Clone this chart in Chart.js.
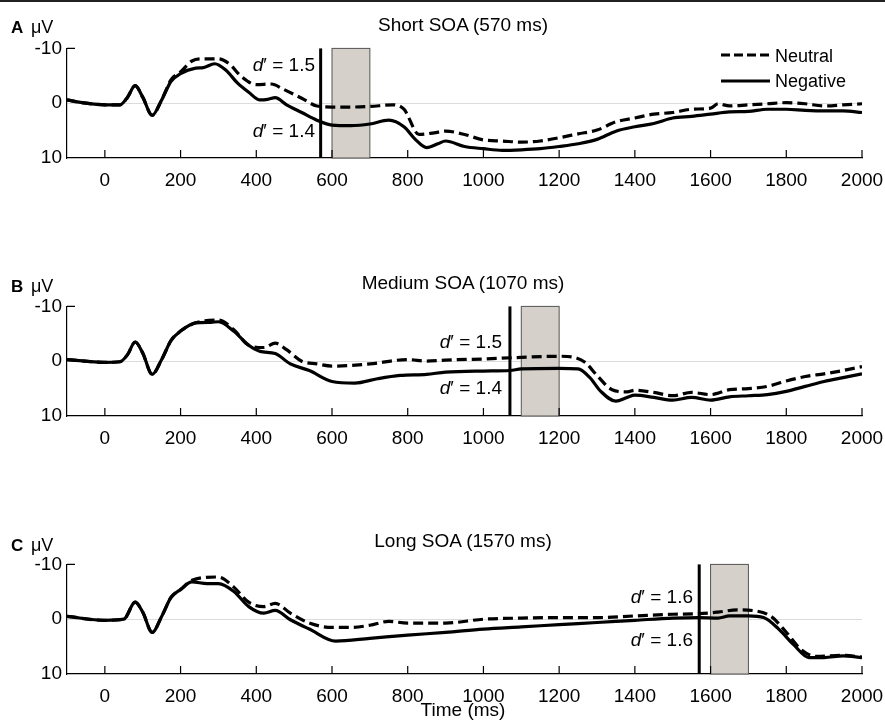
<!DOCTYPE html>
<html>
<head>
<meta charset="utf-8">
<script src="https://cdn.jsdelivr.net/npm/chart.js@4.4.0/dist/chart.umd.min.js"></script>
<style>
  body { margin: 0; background: #fff; }
  #page { position: relative; width: 885px; height: 726px; overflow: hidden; font-family: "Liberation Sans", Arial, sans-serif; }
  #page canvas { position: absolute; left: 0; }
  .t { position: absolute; white-space: nowrap; font-size: 18px; line-height: 20px; color: #000; }
  .letter { font-weight: bold; font-size: 17px; }
  .dp { font-size: 19px; text-align: right; }
  .title { transform: translateX(-50%); font-size: 19px; }
  #topline { position: absolute; left: 0; top: 0; width: 885px; height: 2px; background: #222; }
</style>
</head>
<body>
<div id="page">
  <div id="topline"></div>
  <canvas id="chartA" width="885" height="160" style="top:32px;width:885px;height:160px"></canvas>
  <canvas id="chartB" width="885" height="160" style="top:290px;width:885px;height:160px"></canvas>
  <canvas id="chartC" width="885" height="160" style="top:548px;width:885px;height:160px"></canvas>

  <div class="t letter" style="left:11px;top:18px">A</div>
  <div class="t" style="left:31px;top:17px">μV</div>
  <div class="t title" style="left:463px;top:15px">Short SOA (570 ms)</div>
  <div class="t dp" style="right:570px;top:55px"><i>d</i>′ = 1.5</div>
  <div class="t dp" style="right:570px;top:121px"><i>d</i>′ = 1.4</div>

  <div class="t letter" style="left:11px;top:277px">B</div>
  <div class="t" style="left:31px;top:276px">μV</div>
  <div class="t title" style="left:463px;top:273px">Medium SOA (1070 ms)</div>
  <div class="t dp" style="right:383px;top:332px"><i>d</i>′ = 1.5</div>
  <div class="t dp" style="right:383px;top:378px"><i>d</i>′ = 1.4</div>

  <div class="t letter" style="left:11px;top:536px">C</div>
  <div class="t" style="left:31px;top:535px">μV</div>
  <div class="t title" style="left:463px;top:531px">Long SOA (1570 ms)</div>
  <div class="t dp" style="right:192px;top:587px"><i>d</i>′ = 1.6</div>
  <div class="t dp" style="right:192px;top:630px"><i>d</i>′ = 1.6</div>

  <div class="t title" style="left:463px;top:700px">Time (ms)</div>

  <svg style="position:absolute;left:0;top:0" width="885" height="100">
    <line x1="721" y1="55" x2="770" y2="55" stroke="#000" stroke-width="3" stroke-dasharray="9,4"/>
    <line x1="721" y1="81" x2="770" y2="81" stroke="#000" stroke-width="3"/>
  </svg>
  <div class="t" style="left:775px;top:46px">Neutral</div>
  <div class="t" style="left:775px;top:71px">Negative</div>
</div>

<script>
// tick labels
const xTickValues = [0, 200, 400, 600, 800, 1000, 1200, 1400, 1600, 1800, 2000];
const yTickValues = [-10, 0, 10];

// SOA marker and target window per panel (ms)
const soaTimes = [570, 1070, 1570];
const targetWindows = [[600, 700], [1100, 1200], [1600, 1700]];

// Panel A: short SOA
const timeA_neg = [-100, -50, 0, 40, 60, 80, 100, 125, 150, 175, 200, 240, 260, 290, 320, 350, 380, 410, 430, 450, 480, 520, 560, 600, 650, 700, 750, 790, 820, 850, 880, 900, 950, 1000, 1050, 1100, 1150, 1200, 1250, 1300, 1350, 1400, 1450, 1500, 1550, 1600, 1650, 1700, 1750, 1800, 1850, 1900, 1950, 2000];
const valA_neg = [-0.6, 0, 0.3, 0.3, -1.1, -3.2, -1.1, 2.2, -0.6, -4, -5.4, -6.4, -6.5, -7.2, -6, -3.7, -2, -0.6, -0.7, -1, 0.3, 1.7, 3.1, 4, 4.1, 3.8, 3.1, 4.3, 6.6, 8.1, 7.4, 6.9, 7.9, 8.3, 8.6, 8.5, 8.3, 7.9, 7.4, 6.6, 5.1, 4.3, 3.7, 2.7, 2.4, 2, 1.6, 1.5, 1.1, 1.1, 1.3, 1.4, 1.4, 1.7];
const timeA_neu = [-100, -50, 0, 40, 60, 80, 100, 125, 150, 175, 200, 230, 260, 300, 330, 360, 400, 440, 470, 520, 560, 600, 650, 700, 760, 790, 830, 870, 900, 950, 1000, 1050, 1100, 1150, 1200, 1250, 1300, 1350, 1400, 1450, 1500, 1550, 1600, 1620, 1650, 1700, 1750, 1800, 1850, 1900, 1950, 2000];
const valA_neu = [-0.6, 0, 0.3, 0.3, -1.1, -3.2, -1.1, 2.2, -0.6, -4.3, -5.7, -7.7, -8.1, -8.1, -7.1, -4.9, -3.4, -3.5, -2.6, -0.9, 0.5, 0.7, 0.7, 0.6, 0.3, 1.1, 5.7, 5.4, 5.1, 5.7, 6.7, 6.9, 7.1, 6.9, 6.3, 5.6, 4.9, 3.4, 2.7, 2, 1.7, 1.1, 0.9, 0.1, 0.5, 0.3, 0.1, -0.1, 0.1, 0.5, 0.3, 0.1];

// Panel B: medium SOA
const timeB_neg = [-100, 0, 40, 60, 80, 100, 125, 150, 175, 200, 240, 280, 300, 340, 380, 410, 450, 490, 540, 600, 660, 720, 780, 850, 900, 1000, 1070, 1100, 1200, 1250, 1280, 1310, 1350, 1380, 1400, 1450, 1500, 1550, 1600, 1650, 1700, 1750, 1800, 1850, 1900, 1950, 2000];
const valB_neg = [-0.3, 0.2, 0.1, -1.2, -3.5, -1.5, 2.4, -0.3, -3.8, -5.5, -7, -7.1, -7.2, -5.5, -2.9, -1.8, -1.4, 0.5, 1.7, 3.7, 4, 3.2, 2.6, 2.4, 2, 1.8, 1.7, 1.4, 1.3, 1.4, 2.9, 5.5, 7.3, 6.6, 6.2, 6.6, 7.1, 6.6, 7.1, 6.5, 6.3, 6.1, 5.5, 4.6, 3.7, 3, 2.3];
const timeB_neu = [-100, 0, 40, 60, 80, 100, 125, 150, 175, 200, 240, 300, 340, 380, 420, 450, 480, 520, 560, 600, 700, 800, 850, 900, 1000, 1100, 1200, 1240, 1270, 1300, 1340, 1380, 1400, 1450, 1500, 1550, 1600, 1650, 1700, 1750, 1800, 1850, 1900, 1950, 2000];
const valB_neu = [-0.3, 0.2, 0.1, -1.2, -3.5, -1.5, 2.4, -0.3, -3.8, -5.5, -7, -7.5, -5.8, -2.9, -2.5, -3.3, -2.1, 0, 0.5, 0.9, 0.5, -0.3, 0, -0.2, -0.4, -0.7, -0.9, -0.7, 0.3, 2.6, 5.2, 5.6, 5.3, 5.7, 6.3, 5.7, 6.1, 5.2, 5, 4.6, 3.6, 2.8, 2.3, 1.7, 1];

// Panel C: long SOA
const timeC_neg = [-100, 0, 50, 80, 100, 125, 150, 175, 200, 230, 270, 300, 340, 380, 420, 450, 490, 540, 610, 700, 800, 900, 1000, 1100, 1200, 1300, 1400, 1500, 1570, 1620, 1650, 1700, 1740, 1780, 1820, 1860, 1900, 1950, 2000];
const valC_neg = [-0.5, 0.2, 0, -3.1, -1.3, 2.4, -0.5, -4, -5.4, -6.8, -6.5, -6.5, -5.1, -2.3, -1.1, -1.6, 0.1, 1.8, 4, 3.5, 2.9, 2.4, 1.8, 1.4, 1, 0.6, 0.2, -0.2, -0.3, -0.2, -0.6, -0.6, -0.3, 1.8, 4.7, 7, 7, 6.7, 7];
const timeC_neu = [-100, 0, 50, 80, 100, 125, 150, 175, 200, 230, 300, 340, 380, 420, 450, 490, 540, 600, 650, 700, 750, 800, 900, 1000, 1100, 1200, 1300, 1400, 1500, 1570, 1620, 1670, 1720, 1760, 1800, 1840, 1880, 1950, 2000];
const valC_neu = [-0.5, 0.2, 0, -3.1, -1.3, 2.4, -0.5, -4, -5.4, -7.1, -7.7, -5.9, -3.1, -2.3, -2.9, -1.1, 0.7, 1.5, 1.5, 1.1, 0.4, 0.7, 0.7, 0, -0.2, -0.3, -0.3, -0.6, -0.9, -1, -1.3, -1.7, -1.5, -0.5, 2.4, 5.6, 6.8, 6.6, 6.9];

Chart.defaults.font.family = '"Liberation Sans", Arial, sans-serif';
Chart.defaults.color = '#000';

function toPoints(times, values) {
  return times.map((t, i) => ({ x: t, y: values[i] }));
}

// gray target window, SOA line and inward tick marks
const markerPlugin = {
  id: 'soaMarks',
  beforeDatasetsDraw(chart, args, opts) {
    const { ctx, chartArea: { top, bottom }, scales: { x } } = chart;
    const x0 = x.getPixelForValue(opts.win[0]);
    const x1 = x.getPixelForValue(opts.win[1]);
    ctx.save();
    ctx.fillStyle = '#d5d1ca';
    ctx.fillRect(x0, top, x1 - x0, bottom - top);
    ctx.strokeStyle = '#555';
    ctx.lineWidth = 1;
    ctx.strokeRect(x0, top, x1 - x0, bottom - top);
    ctx.restore();
  },
  afterDatasetsDraw(chart, args, opts) {
    const { ctx, chartArea: { left, top, bottom }, scales: { x, y } } = chart;
    ctx.save();
    ctx.strokeStyle = '#000';
    ctx.lineWidth = 3;
    const xs = x.getPixelForValue(opts.soa);
    ctx.beginPath();
    ctx.moveTo(xs, top);
    ctx.lineTo(xs, bottom);
    ctx.stroke();

    ctx.lineWidth = 1.2;
    ctx.beginPath();
    xTickValues.forEach(v => {
      const px = x.getPixelForValue(v);
      ctx.moveTo(px, bottom);
      ctx.lineTo(px, bottom - 8);
    });
    const py = y.getPixelForValue(-10);
    ctx.moveTo(left, py);
    ctx.lineTo(left + 8, py);
    ctx.stroke();
    ctx.restore();
  }
};

function drawPanel(id, neuT, neuV, negT, negV, idx) {
  new Chart(document.getElementById(id), {
    type: 'line',
    data: {
      datasets: [{
        label: 'Neutral',
        data: toPoints(neuT, neuV),
        borderColor: '#000',
        borderWidth: 3.2,
        borderDash: [10, 5],
        pointRadius: 0,
        cubicInterpolationMode: 'monotone',
        fill: false
      }, {
        label: 'Negative',
        data: toPoints(negT, negV),
        borderColor: '#000',
        borderWidth: 3.2,
        pointRadius: 0,
        cubicInterpolationMode: 'monotone',
        fill: false
      }]
    },
    options: {
      responsive: false,
      animation: false,
      events: [],
      layout: { padding: { top: 14, right: 23, left: 0, bottom: 0 } },
      scales: {
        x: {
          type: 'linear',
          min: -100,
          max: 2000,
          afterBuildTicks: s => { s.ticks = xTickValues.map(v => ({ value: v })); },
          afterFit: s => { s.height = 34; s.paddingRight = 0; },
          grid: { display: false, drawTicks: false },
          border: { display: true, color: '#000', width: 1.2 },
          ticks: { padding: 11, maxRotation: 0, autoSkip: false, font: { size: 19 }, callback: v => String(v) }
        },
        y: {
          type: 'linear',
          min: -10,
          max: 10,
          reverse: true,
          afterBuildTicks: s => { s.ticks = yTickValues.map(v => ({ value: v })); },
          afterFit: s => { s.width = 67; },
          grid: {
            drawTicks: false,
            color: c => (c.tick && c.tick.value === 0) ? '#dcdcdc' : 'rgba(0,0,0,0)',
            lineWidth: 1
          },
          border: { display: true, color: '#000', width: 1.2 },
          ticks: { padding: 5, font: { size: 19 }, callback: v => String(v) }
        }
      },
      plugins: {
        legend: { display: false },
        tooltip: { enabled: false },
        soaMarks: { soa: soaTimes[idx], win: targetWindows[idx] }
      }
    },
    plugins: [markerPlugin]
  });
}

drawPanel('chartA', timeA_neu, valA_neu, timeA_neg, valA_neg, 0);
drawPanel('chartB', timeB_neu, valB_neu, timeB_neg, valB_neg, 1);
drawPanel('chartC', timeC_neu, valC_neu, timeC_neg, valC_neg, 2);
</script>
</body>
</html>
